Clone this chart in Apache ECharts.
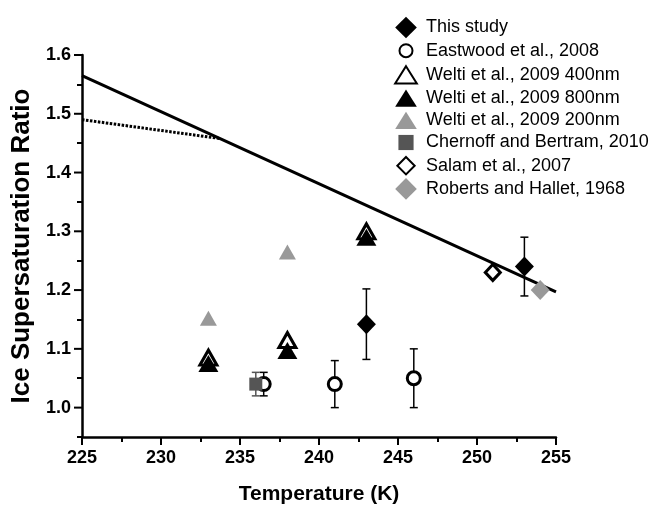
<!DOCTYPE html>
<html>
<head>
<meta charset="utf-8">
<script src="https://cdn.jsdelivr.net/npm/echarts@6/dist/echarts.min.js"></script>
<style>
  html, body { margin: 0; padding: 0; background: #fff; }
  #chart { width: 653px; height: 506px; }
</style>
</head>
<body>
<div id="chart"></div>
<script>
// data: [temperature K, Si]
const thisStudy = [[243, 1.142], [253, 1.24]];
const thisStudyErr = [0.06, 0.05];
const eastwood = [[236.5, 1.04], [241, 1.04], [246, 1.05]];
const eastwoodErr = [0.02, 0.04, 0.05];
const welti400 = [[233, 1.085], [238, 1.115], [243, 1.30]];
const welti800 = [[233, 1.075], [238, 1.097], [243, 1.29]];
const welti200 = [[233, 1.152], [238, 1.265]];
const chernoff = [[236, 1.04]];
const chernoffErr = [0.02];
const salam = [[251, 1.23]];
const roberts = [[254, 1.20]];
const fitLine = [[225, 1.565], [255, 1.197]];
const extrapLine = [[225, 1.49], [233.7, 1.458]];

const xMajor = [225, 230, 235, 240, 245, 250, 255];
const yMajor = [1.0, 1.1, 1.2, 1.3, 1.4, 1.5, 1.6];
const yMinor = [0.95, 1.05, 1.15, 1.25, 1.35, 1.45, 1.55];

const names = ['This study', 'Eastwood et al., 2008', 'Welti et al., 2009 400nm',
  'Welti et al., 2009 800nm', 'Welti et al., 2009 200nm', 'Chernoff and Bertram, 2010',
  'Salam et al., 2007', 'Roberts and Hallet, 1968'];

const font = 'Liberation Sans, Arial, sans-serif';

// error bars -> [x, low, high]
function errData(pts, err) {
  return pts.map((p, i) => [p[0], p[1] - err[i], p[1] + err[i]]);
}
function errRender(params, api) {
  let x = api.value(0);
  let top = api.coord([x, api.value(2)]);
  let bot = api.coord([x, api.value(1)]);
  let w = 4;
  let style = { stroke: api.visual('color'), lineWidth: 1.5 };
  return {
    type: 'group',
    children: [
      { type: 'line', shape: { x1: top[0], y1: top[1], x2: bot[0], y2: bot[1] }, style: style },
      { type: 'line', shape: { x1: top[0] - w, y1: top[1], x2: top[0] + w, y2: top[1] }, style: style },
      { type: 'line', shape: { x1: bot[0] - w, y1: bot[1], x2: bot[0] + w, y2: bot[1] }, style: style }
    ]
  };
}
function errSeries(pts, err, color) {
  return {
    type: 'custom', renderItem: errRender, data: errData(pts, err),
    itemStyle: { color: color }, z: 1, silent: true, encode: { x: 0, y: [1, 2] }
  };
}
// major ticks: [x, y, dir] dir 0 = down (x axis), 1 = left (y axis)
const tickData = xMajor.map(v => [v, 0.95, 0]).concat(yMajor.map(v => [225, v, 1]));
function tickRender(params, api) {
  let p = api.coord([api.value(0), api.value(1)]);
  let down = api.value(2) === 0;
  return {
    type: 'line',
    shape: down ? { x1: p[0], y1: p[1], x2: p[0], y2: p[1] + 8 }
                : { x1: p[0], y1: p[1], x2: p[0] - 8, y2: p[1] },
    style: { stroke: '#000', lineWidth: 2 }
  };
}
function scatter(name, data, symbol, size, fill, border) {
  return {
    name: name, type: 'scatter', data: data, symbol: symbol, symbolSize: size, z: 3,
    itemStyle: border ? { color: fill, borderColor: border, borderWidth: 3, opacity: 1 }
                      : { color: fill, opacity: 1 }
  };
}
// tick-only y axis (no line, no labels)
function tickAxis(values, len) {
  return {
    type: 'value', min: 0.95, max: 1.6, interval: 0.05, position: 'left',
    axisLine: { show: false },
    axisTick: { show: true, length: len, lineStyle: { color: '#000', width: 2 }, customValues: values },
    axisLabel: { show: false },
    splitLine: { show: false }
  };
}

let chart = echarts.init(document.getElementById('chart'));
let option = {
  animation: false,
  grid: { left: 82, right: 97, top: 55, bottom: 69, outerBoundsMode: 'none' },
  legend: {
    orient: 'vertical', left: 387, top: 9.5,
    itemWidth: 26, itemHeight: 26, itemGap: -3.8,
    textStyle: { fontFamily: font, fontSize: 18, color: '#000', padding: [0, 0, 0, 2] },
    data: [
      { name: names[0], icon: 'path://M0,0M24,24M12,2L22,12L12,22L2,12Z' },
      { name: names[1], icon: 'path://M0,0M24,24M6,12a6,6 0 1,0 12,0a6,6 0 1,0 -12,0Z' },
      { name: names[2], icon: 'path://M0,0M24,24M12,4L22,20H2Z' },
      { name: names[3], icon: 'path://M0,0M24,24M12,4L22,20H2Z' },
      { name: names[4], icon: 'path://M0,0M24,24M12,4L22,20H2Z' },
      { name: names[5], icon: 'path://M0,0M24,24M5,5H19V19H5Z' },
      { name: names[6], icon: 'path://M0,0M24,24M12,4L20,12L12,20L4,12Z' },
      { name: names[7], icon: 'path://M0,0M24,24M12,2L22,12L12,22L2,12Z' }
    ]
  },
  xAxis: {
    type: 'value', min: 225, max: 255, interval: 5,
    name: 'Temperature (K)', nameLocation: 'middle', nameGap: 47,
    nameTextStyle: { fontFamily: font, fontSize: 21, fontWeight: 'bold', color: '#000' },
    axisLine: { show: true, lineStyle: { color: '#000', width: 2.5 } },
    axisTick: { show: true, length: 8, lineStyle: { color: '#000', width: 2 } },
    minorTick: { show: true, splitNumber: 2, length: 5, lineStyle: { color: '#000', width: 2 } },
    axisLabel: { fontFamily: font, fontSize: 18, fontWeight: 'bold', color: '#000', margin: 12 },
    splitLine: { show: false }
  },
  yAxis: [
    {
      type: 'value', min: 0.95, max: 1.6, interval: 0.05,
      name: 'Ice Supersaturation Ratio', nameLocation: 'middle', nameGap: 39,
      nameTextStyle: { fontFamily: font, fontSize: 26, fontWeight: 'bold', color: '#000' },
      axisLine: { show: true, lineStyle: { color: '#000', width: 2.5 } },
      axisTick: { show: false },
      axisLabel: {
        fontFamily: font, fontSize: 18, fontWeight: 'bold', color: '#000', margin: 11,
        customValues: yMajor, formatter: v => v.toFixed(1)
      },
      splitLine: { show: false }
    },
    tickAxis(yMinor, 5)
  ],
  series: [
    { type: 'line', data: fitLine, symbol: 'none', z: 0, silent: true,
      lineStyle: { color: '#000', width: 3 } },
    { type: 'line', data: extrapLine, symbol: 'none', z: 0, silent: true,
      lineStyle: { color: '#000', width: 3, type: [2.5, 1.5] } },
    { type: 'custom', renderItem: tickRender, data: tickData, clip: false, silent: true, z: 5,
      encode: { x: 0, y: 1 } },
    errSeries(thisStudy, thisStudyErr, '#000'),
    errSeries(eastwood, eastwoodErr, '#000'),
    errSeries(chernoff, chernoffErr, '#555'),
    scatter(names[0], thisStudy, 'diamond', [19, 20], '#000'),
    scatter(names[1], eastwood, 'circle', 13, '#fff', '#000'),
    scatter(names[2], welti400, 'triangle', [17, 15], '#fff', '#000'),
    scatter(names[3], welti800, 'triangle', [20, 17], '#000'),
    scatter(names[4], welti200, 'triangle', [17, 15], '#999'),
    scatter(names[5], chernoff, 'rect', 13, '#555'),
    scatter(names[6], salam, 'diamond', [15, 16], '#fff', '#000'),
    scatter(names[7], roberts, 'diamond', [19, 20], '#999')
  ]
};
chart.setOption(option);
</script>
</body>
</html>
